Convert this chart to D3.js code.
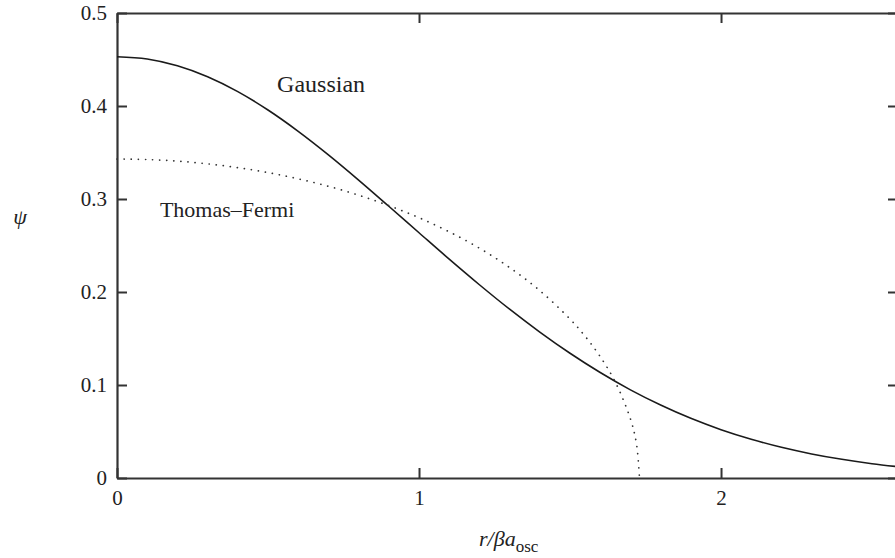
<!DOCTYPE html>
<html>
<head>
<meta charset="utf-8">
<script src="https://cdn.jsdelivr.net/npm/d3@7"></script>
<style>
  body { margin: 0; background: #fff; }
  svg text { font-family: "Liberation Serif", "Times New Roman", "DejaVu Serif", serif; }
  .axis path, .axis line { stroke: #333; }
  .axis text { font-size: 21px; fill: #222; }
</style>
</head>
<body>
<script>
// radial coordinate r / (beta a_osc)
const rGauss = [0, 0.1, 0.2, 0.3, 0.4, 0.5, 0.6, 0.7, 0.8, 0.9, 1.0, 1.1, 1.2, 1.3,
  1.4, 1.5, 1.6, 1.7, 1.8, 1.9, 2.0, 2.1, 2.2, 2.3, 2.4, 2.5, 2.6];
const psiGauss = [0.453, 0.4506, 0.4433, 0.4315, 0.4155, 0.3957, 0.3728, 0.3475, 0.3204,
  0.2922, 0.2637, 0.2353, 0.2078, 0.1815, 0.1569, 0.1341, 0.1134, 0.0948, 0.0785,
  0.0642, 0.0520, 0.0417, 0.0330, 0.0259, 0.0201, 0.0154, 0.0117];

const rTF = [0, 0.1, 0.2, 0.3, 0.4, 0.5, 0.6, 0.7, 0.8, 0.9, 1.0, 1.1, 1.2, 1.3, 1.4,
  1.5, 1.55, 1.6, 1.65, 1.7, 1.72, 1.73];
const psiTF = [0.343, 0.3424, 0.3407, 0.3378, 0.3337, 0.3284, 0.3217, 0.3137, 0.3041,
  0.2929, 0.2799, 0.2647, 0.2471, 0.2263, 0.2015, 0.1709, 0.1524, 0.1305, 0.1031,
  0.0636, 0.0369, 0];

const xTicks = [0, 1, 2];
const yTicks = [0, 0.1, 0.2, 0.3, 0.4, 0.5];

// constants
const width = 895;
const height = 558;
const margin = { left: 117, top: 13, bottom: 80 };
const plotRight = 898; // frame's right edge sits just past the window
const serif = '"Liberation Serif", "Times New Roman", serif';

const x = d3.scaleLinear().domain([0, 2.586]).range([margin.left, plotRight]);
const y = d3.scaleLinear().domain([0, 0.5]).range([height - margin.bottom, margin.top]);

const svg = d3.select('body')
  .append('svg')
  .attr('width', width)
  .attr('height', height);

// axes, ticks pointing inward on all four sides
const fmtY = (d) => (d === 0 ? '0' : d3.format('.1f')(d));
const gBottom = svg.append('g').attr('class', 'axis')
  .attr('transform', `translate(0,${y(0)})`)
  .call(d3.axisBottom(x).tickValues(xTicks).tickFormat(d3.format('d'))
    .tickSizeInner(-10).tickSizeOuter(0).tickPadding(12));
const gTop = svg.append('g').attr('class', 'axis')
  .attr('transform', `translate(0,${y(0.5)})`)
  .call(d3.axisTop(x).tickValues(xTicks).tickFormat('')
    .tickSizeInner(-10).tickSizeOuter(0));
const gLeft = svg.append('g').attr('class', 'axis')
  .attr('transform', `translate(${x(0)},0)`)
  .call(d3.axisLeft(y).tickValues(yTicks).tickFormat(fmtY)
    .tickSizeInner(-10).tickSizeOuter(0).tickPadding(10));
const gRight = svg.append('g').attr('class', 'axis')
  .attr('transform', `translate(${plotRight},0)`)
  .call(d3.axisRight(y).tickValues(yTicks).tickFormat('')
    .tickSizeInner(-10).tickSizeOuter(0));

[gBottom, gTop, gLeft, gRight].forEach((g) => {
  g.attr('font-family', serif);
  g.select('.domain').attr('stroke-width', 2.2);
  g.selectAll('.tick line').attr('stroke-width', 2);
});

// curves
const line = d3.line()
  .x((d) => x(d[0]))
  .y((d) => y(d[1]))
  .curve(d3.curveMonotoneX);

svg.append('path')
  .datum(rGauss.map((r, i) => [r, psiGauss[i]]))
  .attr('d', line)
  .attr('fill', 'none')
  .attr('stroke', '#1a1a1a')
  .attr('stroke-width', 1.6);

const lineTF = d3.line()
  .x((d) => x(d[0]))
  .y((d) => y(d[1]))
  .curve(d3.curveCatmullRom);

svg.append('path')
  .datum(rTF.map((r, i) => [r, psiTF[i]]))
  .attr('d', lineTF)
  .attr('fill', 'none')
  .attr('stroke', '#333')
  .attr('stroke-width', 1.7)
  .attr('stroke-linecap', 'round')
  .attr('stroke-dasharray', '0.1,7');

// curve labels
svg.append('text')
  .attr('x', x(0.53)).attr('y', y(0.415))
  .attr('font-family', serif)
  .attr('font-size', 24)
  .attr('fill', '#222')
  .text('Gaussian');

svg.append('text')
  .attr('x', x(0.142)).attr('y', y(0.281))
  .attr('font-family', serif)
  .attr('font-size', 22)
  .attr('fill', '#222')
  .text('Thomas\u2013Fermi');

// axis titles
svg.append('text')
  .attr('x', 20).attr('y', 224)
  .attr('text-anchor', 'middle')
  .attr('font-family', serif)
  .attr('font-size', 22)
  .attr('font-style', 'italic')
  .attr('fill', '#222')
  .text('\u03c8');

const xl = svg.append('text')
  .attr('x', 479).attr('y', 546)
  .attr('font-family', serif)
  .attr('font-size', 22)
  .attr('font-style', 'italic')
  .attr('fill', '#222');
xl.append('tspan').text('r/\u03b2a');
xl.append('tspan')
  .attr('dy', 6)
  .attr('font-size', 17)
  .attr('font-style', 'normal')
  .text('osc');
</script>
</body>
</html>
